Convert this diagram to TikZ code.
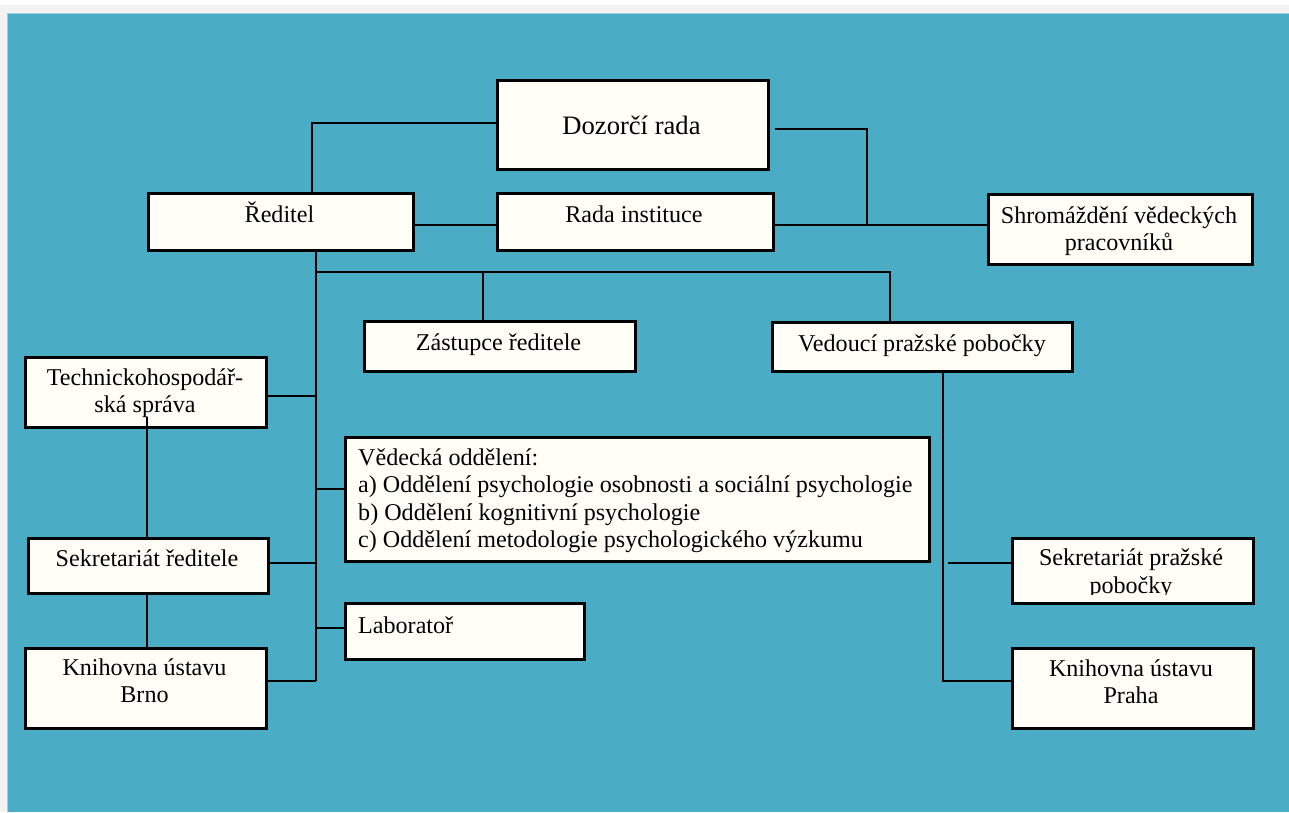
\documentclass[tikz,border=0pt]{standalone}
\usepackage{fontspec}
\setmainfont{Liberation Serif}
\definecolor{bg}{HTML}{4BACC6}
\definecolor{ivory}{HTML}{FFFFF7}
\definecolor{pagegray}{HTML}{F2F2F2}
\begin{document}
\begin{tikzpicture}[x=1pt,y=-1pt,
  box/.style={draw=black, line width=2.5pt, fill=ivory, inner sep=0pt, anchor=north west},
  txt/.style={font=\fontsize{24.1}{27.5}\selectfont, anchor=base, inner sep=0pt},
  txtl/.style={txt, anchor=base west},
  bigtxt/.style={font=\fontsize{26.6}{30}\selectfont, anchor=base, inner sep=0pt},
  conn/.style={line width=2.1pt, draw=black}]
\useasboundingbox (0,0) rectangle (1289,812);
\fill[pagegray] (0,0) rectangle (1289,812);
\fill[white] (0,0) rectangle (1289,5);
\fill[bg] (7.5,13) rectangle (1289,812);
\draw[color=bg!55!white, line width=1pt] (7.5,812) -- (7.5,13.5) -- (1289,13.5);

% boxes
\node[box, minimum width=271pt, minimum height=89pt] (doz) at (496,79) {};
\node[box, minimum width=265pt, minimum height=57pt] (red) at (147,192) {};
\node[box, minimum width=276pt, minimum height=57pt] (rada) at (496,192) {};
\node[box, minimum width=264pt, minimum height=70pt] (shrom) at (987,193) {};
\node[box, minimum width=271pt, minimum height=50pt] (zast) at (363,320) {};
\node[box, minimum width=300pt, minimum height=49pt] (ved) at (771,321) {};
\node[box, minimum width=241pt, minimum height=70pt] (tech) at (24,356) {};
\node[box, minimum width=240pt, minimum height=55pt] (sekr) at (27,537) {};
\node[box, minimum width=241pt, minimum height=80pt] (knb) at (24,647) {};
\node[box, minimum width=584pt, minimum height=124pt] (vo) at (344,436) {};
\node[box, minimum width=239pt, minimum height=56pt] (lab) at (344,602) {};
\node[box, minimum width=241pt, minimum height=65pt] (sekp) at (1011,537) {};
\node[box, minimum width=241pt, minimum height=80pt] (knp) at (1011,647) {};

% texts
\node[bigtxt] (dozT) at (631.5,134) {Dozorčí rada};
\node[txt] (redT) at (279.5,222) {Ředitel};
\node[txt] (radaT) at (634,222) {Rada instituce};
\node[txt] (shromT1) at (1119,223) {Shromáždění vědeckých};
\node[txt] (shromT2) at (1119,250) {pracovníků};
\node[txt] (zastT) at (498.5,350) {Zástupce ředitele};
\node[txt] (vedT) at (922,351) {Vedoucí pražské pobočky};
\node[txt] (techT1) at (145,385.5) {Technickohospodář-};
\node[txt] (techT2) at (145,412.5) {ská správa};
\node[txt] (sekrT) at (147,566.5) {Sekretariát ředitele};
\node[txt] (knbT1) at (144.5,675) {Knihovna ústavu};
\node[txt] (knbT2) at (144.5,702.5) {Brno};
\node[txtl] (voT1) at (358,465) {Vědecká oddělení:};
\node[txtl] (voT2) at (358,492.5) {a) Oddělení psychologie osobnosti a sociální psychologie};
\node[txtl] (voT3) at (358,520) {b) Oddělení kognitivní psychologie};
\node[txtl] (voT4) at (358,547.5) {c) Oddělení metodologie psychologického výzkumu};
\node[txtl] (labT) at (358,633) {Laboratoř};
\node[txt] (sekpT1) at (1131,565) {Sekretariát pražské};
\begin{scope}
  \clip (1012,540) rectangle (1250,594.5);
  \node[txt] (sekpT2) at (1131,593) {pobočky};
\end{scope}
\node[txt] (knpT1) at (1131,676) {Knihovna ústavu};
\node[txt] (knpT2) at (1131,703) {Praha};

% connectors
\coordinate (j1) at (867,225);
\coordinate (t0) at (316,272);
\coordinate (tB) at (316,681);
\coordinate (p0) at (943,681);
\draw[conn] (doz.west |- 0,123) -| (312,0 |- red.north);
\draw[conn] (red.east |- 0,225) -- (rada.west |- 0,225);
\draw[conn] (rada.east |- 0,225) -- (shrom.west |- 0,225);
\draw[conn] ([xshift=5pt]doz.east |- 0,129) -| (j1);
\draw[conn] (316,0 |- red.south) -- (tB);
\draw[conn] (t0) -- (890,272) -- (890,0 |- ved.north);
\draw[conn] (483,272) -- (483,0 |- zast.north);
\draw[conn] (tech.east |- 0,396) -- (316,396);
\draw[conn] (sekr.east |- 0,563) -- (316,563);
\draw[conn] (knb.east |- 0,681) -- (tB);
\draw[conn] (316,489) -- (vo.west |- 0,489);
\draw[conn] (316,628) -- (lab.west |- 0,628);
\draw[conn] (147,417) -- (147,0 |- sekr.north);
\draw[conn] (147,0 |- sekr.south) -- (147,0 |- knb.north);
\draw[conn] (943,0 |- ved.south) -- (p0) -- (knp.west |- 0,681);
\draw[conn] (948,563) -- (sekp.west |- 0,563);
\end{tikzpicture}
\end{document}
